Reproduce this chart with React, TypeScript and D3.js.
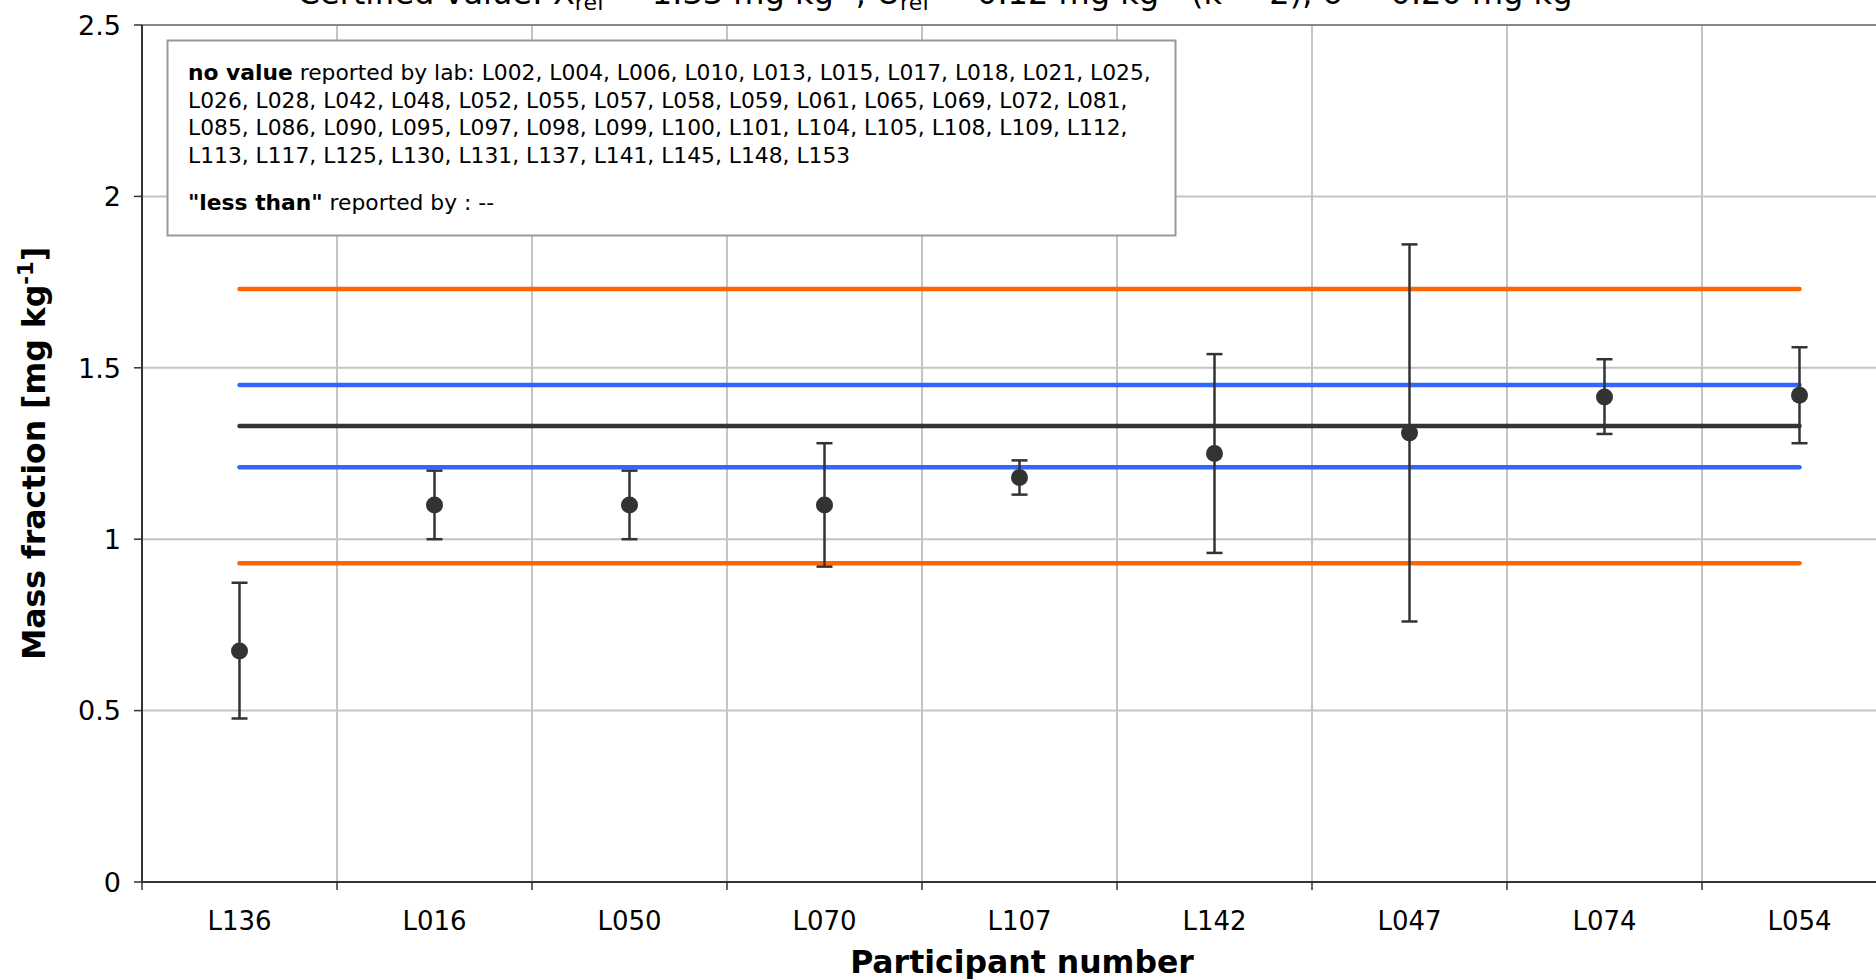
import React from 'react';
import * as d3 from 'd3';

// participant results (mass fraction, mg/kg) with expanded uncertainty bounds
const labs = ['L136', 'L016', 'L050', 'L070', 'L107', 'L142', 'L047', 'L074', 'L054'];
const values = [0.674, 1.10, 1.10, 1.10, 1.18, 1.25, 1.31, 1.415, 1.42];
const upper = [0.873, 1.20, 1.20, 1.28, 1.23, 1.54, 1.86, 1.525, 1.56];
const lower = [0.477, 1.00, 1.00, 0.92, 1.13, 0.96, 0.76, 1.307, 1.28];

const xRef = 1.33;
const uRef = 0.12;
const sigma = 0.20;

const yTicks = [0, 0.5, 1, 1.5, 2, 2.5];

const noValueLabs = [
  'L002, L004, L006, L010, L013, L015, L017, L018, L021, L025,',
  'L026, L028, L042, L048, L052, L055, L057, L058, L059, L061, L065, L069, L072, L081,',
  'L085, L086, L090, L095, L097, L098, L099, L100, L101, L104, L105, L108, L109, L112,',
  'L113, L117, L125, L130, L131, L137, L141, L145, L148, L153',
];

const FONT = '"DejaVu Sans", Verdana, sans-serif';

export default function App() {
  const width = 1876;
  const height = 979;
  const margin = { top: 25, left: 142, bottom: 97 };
  const band = 195;
  const innerW = band * labs.length;
  const innerH = height - margin.top - margin.bottom;

  const x = d3.scaleBand().domain(labs).range([margin.left, margin.left + innerW]).padding(0);
  const y = d3.scaleLinear().domain([0, 2.5]).range([margin.top + innerH, margin.top]);

  const cx = (l: string) => (x(l) as number) + x.bandwidth() / 2;
  const x0 = cx(labs[0]);
  const x1 = cx(labs[labs.length - 1]);

  const refLines = [
    { v: xRef + 2 * sigma, color: '#ff6600' },
    { v: xRef - 2 * sigma, color: '#ff6600' },
    { v: xRef + uRef, color: '#3366ff' },
    { v: xRef - uRef, color: '#3366ff' },
    { v: xRef, color: '#333333' },
  ];

  const boundaries = labs.map((l) => x(l) as number).concat([margin.left + innerW]);
  const legendFs = 21.8;

  return (
    <div style={{ position: 'absolute', left: 0, top: 0 }}>
      <svg width={width} height={height} style={{ display: 'block', fontFamily: FONT }}>
        <rect width={width} height={height} fill="#fff" />

        {/* title, clipped at top */}
        <text x={946} y={4} textAnchor="middle" fontSize={32} fill="#000">
          Certified value: X<tspan fontSize={22} dy={6}>ref</tspan>
          <tspan dy={-6}> = 1.33 mg kg</tspan>
          <tspan fontSize={22} dy={-12}>-1</tspan>
          <tspan dy={12}>; U</tspan>
          <tspan fontSize={22} dy={6}>ref</tspan>
          <tspan dy={-6}> = 0.12 mg kg</tspan>
          <tspan fontSize={22} dy={-12}>-1</tspan>
          <tspan dy={12}> (k = 2); σ = 0.20 mg kg</tspan>
          <tspan fontSize={22} dy={-12}>-1</tspan>
        </text>

        {/* gridlines */}
        {yTicks.filter((t) => t > 0 && t < 2.5).map((t) => (
          <line key={'h' + t} x1={margin.left} x2={margin.left + innerW} y1={y(t)} y2={y(t)} stroke="#c4c4c4" strokeWidth={2} />
        ))}
        {boundaries.slice(1).map((b) => (
          <line key={'v' + b} x1={b} x2={b} y1={margin.top} y2={margin.top + innerH} stroke="#c4c4c4" strokeWidth={2} />
        ))}
        {/* plot frame */}
        <line x1={margin.left} x2={margin.left + innerW} y1={margin.top} y2={margin.top} stroke="#888" strokeWidth={2} />

        {/* legend box */}
        <rect x={167.5} y={40.5} width={1008} height={195} fill="#fff" stroke="#999" strokeWidth={2} />
        <text x={188} y={80} fontSize={legendFs} fill="#000">
          <tspan fontWeight="bold">no value</tspan> reported by lab: {noValueLabs[0]}
        </text>
        {noValueLabs.slice(1).map((s, i) => (
          <text key={s} x={188} y={107.5 + i * 27.5} fontSize={legendFs} fill="#000">{s}</text>
        ))}
        <text x={188} y={210} fontSize={legendFs} fill="#000">
          <tspan fontWeight="bold">"less than"</tspan> reported by : --
        </text>

        {/* reference lines */}
        {refLines.map((r, i) => (
          <line key={i} x1={x0} x2={x1} y1={y(r.v)} y2={y(r.v)} stroke={r.color} strokeWidth={4.5} strokeLinecap="round" />
        ))}

        {/* error bars and points */}
        {labs.map((l, i) => {
          const c = cx(l);
          return (
            <g key={l} stroke="#333" strokeWidth={2.5}>
              <line x1={c} x2={c} y1={y(upper[i])} y2={y(lower[i])} />
              <line x1={c - 8} x2={c + 8} y1={y(upper[i])} y2={y(upper[i])} />
              <line x1={c - 8} x2={c + 8} y1={y(lower[i])} y2={y(lower[i])} />
              <circle cx={c} cy={y(values[i])} r={8.5} fill="#333" stroke="none" />
            </g>
          );
        })}

        {/* axes */}
        <line x1={margin.left} x2={margin.left} y1={margin.top} y2={margin.top + innerH} stroke="#333" strokeWidth={2} />
        <line x1={margin.left} x2={margin.left + innerW} y1={margin.top + innerH} y2={margin.top + innerH} stroke="#333" strokeWidth={2} />
        {yTicks.map((t) => (
          <g key={'yt' + t}>
            <line x1={margin.left - 8} x2={margin.left} y1={y(t)} y2={y(t)} stroke="#333" strokeWidth={1.5} />
            <text x={margin.left - 21} y={y(t)} dy="0.36em" textAnchor="end" fontSize={27} fill="#000">{t}</text>
          </g>
        ))}
        {boundaries.map((b) => (
          <line key={'xt' + b} x1={b} x2={b} y1={margin.top + innerH} y2={margin.top + innerH + 8} stroke="#333" strokeWidth={1.5} />
        ))}
        {labs.map((l) => (
          <text key={'xl' + l} x={cx(l)} y={930} textAnchor="middle" fontSize={26} fill="#000">{l}</text>
        ))}

        {/* axis titles */}
        <text x={1022} y={973} textAnchor="middle" fontSize={31.5} fontWeight="bold" fill="#000">Participant number</text>
        <text transform={`translate(45,${(margin.top + margin.top + innerH) / 2}) rotate(-90)`} textAnchor="middle" fontSize={31.5} fontWeight="bold" fill="#000">
          Mass fraction [mg kg<tspan fontSize={21} dy={-12}>-1</tspan><tspan dy={12}>]</tspan>
        </text>
      </svg>
    </div>
  );
}
